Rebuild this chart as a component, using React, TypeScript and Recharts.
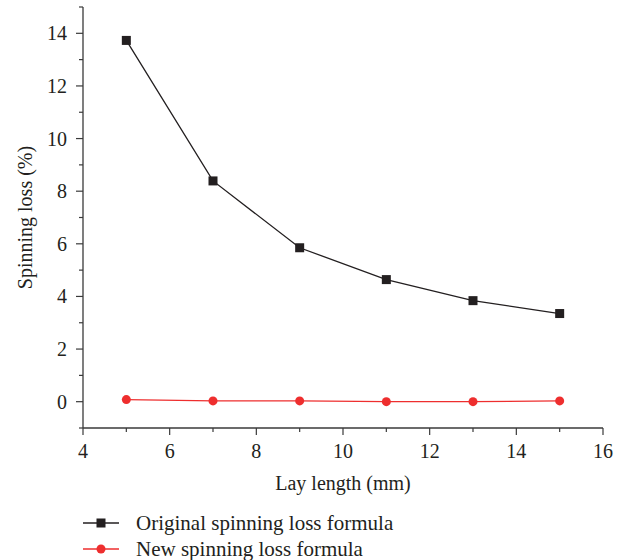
import React from 'react';
import { LineChart, Line, XAxis, YAxis, Legend } from 'recharts';

const layLength = [5, 7, 9, 11, 13, 15];
const originalLoss = [13.73, 8.39, 5.85, 4.64, 3.84, 3.35];
const newLoss = [0.08, 0.03, 0.03, 0.0, 0.0, 0.03];
const xTicks = [4, 5, 6, 7, 8, 9, 10, 11, 12, 13, 14, 15, 16];
const xLabels = [4, 6, 8, 10, 12, 14, 16];
const yTicks = [-1, 0, 1, 2, 3, 4, 5, 6, 7, 8, 9, 10, 11, 12, 13, 14, 15];
const yLabels = [0, 2, 4, 6, 8, 10, 12, 14];
const seriesNames = ['Original spinning loss formula', 'New spinning loss formula'];

const data = layLength.map((x, i) => ({ x, orig: originalLoss[i], nw: newLoss[i] }));

const FONT = "'Liberation Serif', 'Times New Roman', Times, 'DejaVu Serif', serif";
const FS = 20;
const TEXT = '#231f20';
const AXIS = '#3a3a3a';
const BLACK = '#231f20';
const RED = '#ee2e2e';

const XTick = (props: any) => {
  const { x, y, payload } = props;
  const major = xLabels.includes(payload.value);
  return (
    <g>
      <line x1={x} x2={x} y1={y} y2={y + (major ? 7 : 4)} stroke={AXIS} strokeWidth={1.2} />
      {major && (
        <text x={x} y={y + 30} textAnchor="middle" style={{ fontSize: FS, fontFamily: FONT }} fill={TEXT}>
          {payload.value}
        </text>
      )}
    </g>
  );
};

const YTick = (props: any) => {
  const { x, y, payload } = props;
  const major = yLabels.includes(payload.value);
  return (
    <g>
      <line x1={x} x2={x - (major ? 7 : 4)} y1={y} y2={y} stroke={AXIS} strokeWidth={1.2} />
      {major && (
        <text x={x - 16} y={y + 7} textAnchor="end" style={{ fontSize: FS, fontFamily: FONT }} fill={TEXT}>
          {payload.value}
        </text>
      )}
    </g>
  );
};

const SquareDot = (props: any) => {
  const { cx, cy, index } = props;
  return <rect key={`sq-${index}`} x={cx - 4.5} y={cy - 4.5} width={9} height={9} fill={BLACK} />;
};

const LegendContent = (props: any) => {
  const payload = [...(props.payload || [])].sort(
    (a: any, b: any) => seriesNames.indexOf(a.value) - seriesNames.indexOf(b.value)
  );
  return (
    <div style={{ fontFamily: FONT, fontSize: 21, color: TEXT, lineHeight: '26px' }}>
      {payload.map((p: any, i: number) => (
        <div key={i} style={{ display: 'flex', alignItems: 'center', height: 26 }}>
          <svg width={38} height={14} style={{ marginRight: 15 }}>
            <line x1={0} x2={36} y1={7} y2={7} stroke={p.color} strokeWidth={1.3} />
            {p.value === seriesNames[0] ? (
              <rect x={13.5} y={2.5} width={9} height={9} fill={p.color} />
            ) : (
              <circle cx={18} cy={7} r={4.5} fill={p.color} />
            )}
          </svg>
          <span>{p.value}</span>
        </div>
      ))}
    </div>
  );
};

export default function App() {
  return (
    <div style={{ position: 'absolute', left: 0, top: 0, width: 627, height: 560, background: '#fff', fontFamily: FONT }}>
      <LineChart width={627} height={560} data={data} margin={{ top: 7, right: 24, left: 0, bottom: 0 }}>
        <XAxis
          dataKey="x"
          type="number"
          domain={[4, 16]}
          ticks={xTicks}
          interval={0}
          allowDataOverflow
          stroke={AXIS}
          strokeWidth={1.3}
          tickLine={false}
          tickSize={0}
          tickMargin={0}
          tick={<XTick />}
          height={132}
          label={{ value: 'Lay length (mm)', position: 'insideTop', offset: 48, fill: TEXT, style: { fontSize: FS, fontFamily: FONT } }}
        />
        <YAxis
          type="number"
          domain={[-1, 15]}
          ticks={yTicks}
          interval={0}
          allowDataOverflow
          stroke={AXIS}
          strokeWidth={1.3}
          tickLine={false}
          tickSize={0}
          tickMargin={0}
          tick={<YTick />}
          width={83}
          label={{ value: 'Spinning loss (%)', angle: -90, position: 'insideLeft', offset: 25, dy: 0, fill: TEXT, style: { textAnchor: 'middle', fontSize: FS, fontFamily: FONT } }}
        />
        <Legend
          layout="vertical"
          align="center"
          verticalAlign="middle"
          content={<LegendContent />}
          wrapperStyle={{ left: 83, top: 510, width: 440, height: 52 }}
        />
        <Line
          type="linear"
          dataKey="orig"
          name={seriesNames[0]}
          stroke={BLACK}
          strokeWidth={1.3}
          dot={<SquareDot />}
          activeDot={false}
          isAnimationActive={false}
        />
        <Line
          type="linear"
          dataKey="nw"
          name={seriesNames[1]}
          stroke={RED}
          strokeWidth={1.2}
          dot={{ r: 4.5, fill: RED, stroke: RED, strokeWidth: 0 }}
          activeDot={false}
          isAnimationActive={false}
        />
      </LineChart>
    </div>
  );
}
